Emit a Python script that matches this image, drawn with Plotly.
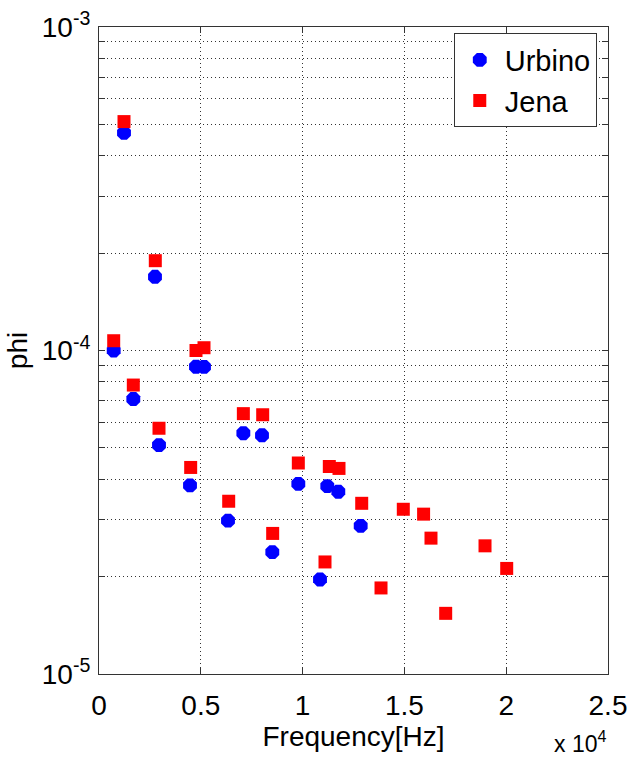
import plotly.graph_objects as go

urbino_freq = [722, 1228, 1685, 2750, 2947, 4470, 4764, 5157, 6336, 7090, 8006, 8512, 9790, 10855, 11213, 11754, 12853]
urbino_phi = [1.0e-4, 4.71e-4, 7.08e-5, 1.69e-4, 5.1e-5, 3.83e-5, 8.91e-5, 8.9e-5, 2.98e-5, 5.55e-5, 5.47e-5, 2.38e-5, 3.87e-5, 1.96e-5, 3.81e-5, 3.66e-5, 2.87e-5]

jena_freq = [722, 1228, 1685, 2765, 2947, 4503, 4764, 5157, 6370, 7090, 8040, 8530, 9790, 11100, 11312, 11788, 12903, 13851, 14946, 15943, 16306, 17028, 18959, 20025]
jena_phi = [1.072e-4, 5.1e-4, 7.82e-5, 1.895e-4, 5.75e-5, 4.35e-5, 1.0e-4, 1.02e-4, 3.42e-5, 6.38e-5, 6.33e-5, 2.72e-5, 4.49e-5, 2.22e-5, 4.38e-5, 4.32e-5, 3.37e-5, 1.845e-5, 3.23e-5, 3.12e-5, 2.63e-5, 1.54e-5, 2.49e-5, 2.12e-5]

x_tickvals = [0, 5000, 10000, 15000, 20000, 25000]
x_ticktext = ["0", "0.5", "1", "1.5", "2", "2.5"]

y_decades = [1e-5, 1e-4, 1e-3]
y_decade_text = ["10<sup>-5</sup>", "10<sup>-4</sup>", "10<sup>-3</sup>"]

y_tickvals = []
y_ticktext = []
for d, t in zip(y_decades, y_decade_text):
    if d == 1e-3:
        y_tickvals.append(d)
        y_ticktext.append(t)
        break
    for m in range(1, 10):
        y_tickvals.append(m * d)
        y_ticktext.append(t if m == 1 else "")

FONT = "Liberation Sans, Arial, Helvetica, sans-serif"

fig = go.Figure()
fig.add_trace(go.Scatter(x=urbino_freq, y=urbino_phi, mode="markers", name="Urbino",
                         marker=dict(symbol="octagon", size=15, color="#0000FF", line=dict(width=0))))
fig.add_trace(go.Scatter(x=jena_freq, y=jena_phi, mode="markers", name="Jena",
                         marker=dict(symbol="square", size=13, color="#FF0000", line=dict(width=0))))

axis_common = dict(showline=True, linecolor="#333333", linewidth=1, mirror="allticks",
                   ticks="inside", ticklen=6, tickcolor="#333333", automargin=False,
                   ticklabeloverflow="allow",
                   showgrid=True, gridcolor="#333333", gridwidth=1, griddash="1px,3px",
                   zeroline=False, tickfont=dict(family=FONT, size=28, color="black"))

fig.update_xaxes(range=[0, 25000], tickvals=x_tickvals, ticktext=x_ticktext,
                 ticklabelstandoff=6,
                 title=dict(text="Frequency[Hz]", font=dict(family=FONT, size=28, color="black"), standoff=4),
                 **axis_common)
fig.update_yaxes(type="log", range=[-5, -3], tickvals=y_tickvals, ticktext=y_ticktext,
                 ticklabelstandoff=2,
                 title=dict(text="phi", font=dict(family=FONT, size=28, color="black"), standoff=6),
                 **axis_common)

fig.add_annotation(text="x 10<sup>4</sup>", xref="paper", yref="paper", x=1.0, y=-0.131,
                   xanchor="right", yanchor="bottom", showarrow=False,
                   font=dict(family=FONT, size=23, color="black"))

fig.update_layout(width=627, height=760, margin=dict(l=99, r=19, t=27, b=86),
                  paper_bgcolor="white", plot_bgcolor="white",
                  font=dict(family=FONT, color="black"),
                  legend=dict(x=0.697, y=0.99, xanchor="left", yanchor="top",
                              bgcolor="white", bordercolor="#333333", borderwidth=1,
                              tracegroupgap=0, itemwidth=40,
                              font=dict(family=FONT, size=29, color="black")))

fig.write_html("out.html")
